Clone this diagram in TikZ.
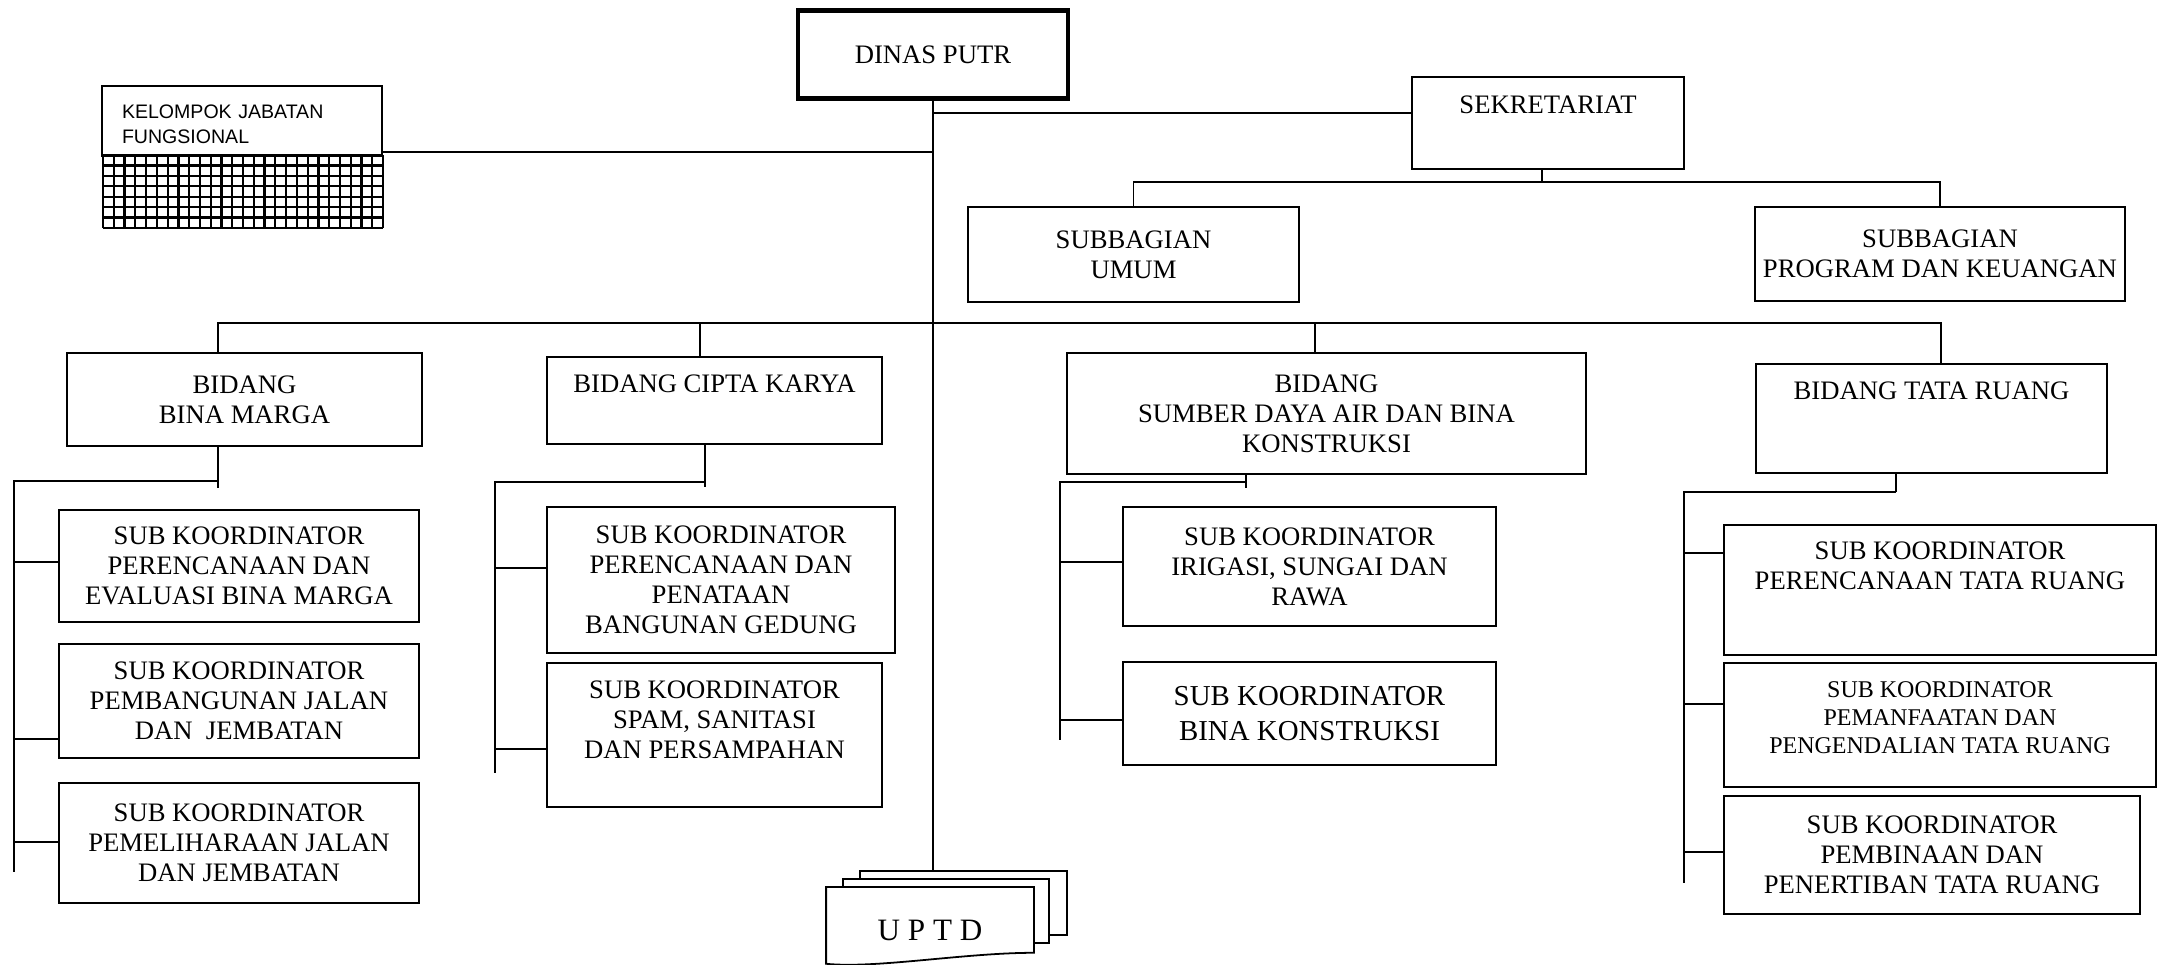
\documentclass[tikz,border=0pt]{standalone}
\usepackage{fontspec}
\setmainfont{Liberation Serif}
\newfontfamily\kjffont{Liberation Sans}
\usetikzlibrary{calc}

\def\px{0.45pt}
\newcommand\tnr{\fontsize{12}{13.5}\selectfont}

\begin{document}
\begin{tikzpicture}[x=0.45pt, y=-0.45pt, line width=0.8pt,
  box/.style 2 args={draw, align=center, inner sep=0pt, font=\tnr,
    minimum width=#1*\px, minimum height=#2*\px},
  topbox/.style n args={3}{box={#1}{0}, anchor=north,
    text height=#2*\px, text depth=#3*\px}]
  \useasboundingbox (0,0) rectangle (2164,964);

  % --- pimpinan ---
  \node[box={270}{88}, line width=2.2pt] (dinas) at (933,54.5) {DINAS PUTR};

  % --- kelompok jabatan fungsional ---
  \node[topbox={280}{33}{37}, font=\kjffont\fontsize{8.8}{11.2}\selectfont,
    align=left, text width=240*\px, inner xsep=20*\px] (kjf) at (242,85)
    {KELOMPOK JABATAN\\FUNGSIONAL};
  \foreach \i in {0,...,26}
    \draw[line width=1pt] ({103+\i*10.77},155) -- ({103+\i*10.77},228);
  \foreach \j in {0,...,7}
    \draw[line width=1pt] (103,{155+\j*10.43}) -- (383,{155+\j*10.43});

  % --- sekretariat ---
  \node[topbox={272}{37}{55}] (sek) at (1548,76) {SEKRETARIAT};
  \node[box={331}{95}] (sbu) at (1133.5,254.5) {SUBBAGIAN\\UMUM};
  \node[box={370}{94}] (sbp) at (1940,254) {SUBBAGIAN\\PROGRAM DAN KEUANGAN};

  % --- bidang ---
  \node[box={355}{93}] (bm) at (244.5,399.5) {BIDANG\\BINA MARGA};
  \node[topbox={335}{36}{51}] (ck) at (714.5,356) {BIDANG CIPTA KARYA};
  \node[box={519}{121}] (sda) at (1326.5,413.5)
    {BIDANG\\SUMBER DAYA AIR DAN BINA\\KONSTRUKSI};
  \node[topbox={351}{36}{73}] (tr) at (1931.5,363) {BIDANG TATA RUANG};

  % --- sub koordinator ---
  \node[box={360}{112}] (bm1) at (239,566)
    {SUB KOORDINATOR\\PERENCANAAN DAN\\EVALUASI BINA MARGA};
  \node[box={360}{114}] (bm2) at (239,701)
    {SUB KOORDINATOR\\PEMBANGUNAN JALAN\\DAN\ \ JEMBATAN};
  \node[box={360}{120}] (bm3) at (239,843)
    {SUB KOORDINATOR\\PEMELIHARAAN JALAN\\DAN JEMBATAN};
  \node[box={348}{146}] (ck1) at (721,580)
    {SUB KOORDINATOR\\PERENCANAAN DAN\\PENATAAN\\BANGUNAN GEDUNG};
  \node[topbox={335}{96}{48}] (ck2) at (714.5,662)
    {SUB KOORDINATOR\\SPAM, SANITASI\\DAN PERSAMPAHAN};
  \node[box={373}{119}] (sda1) at (1309.5,566.5)
    {SUB KOORDINATOR\\IRIGASI, SUNGAI DAN\\RAWA};
  \node[box={373}{103}, font=\fontsize{13}{15.5}\selectfont] (sda2) at (1309.5,713.5)
    {SUB KOORDINATOR\\BINA KONSTRUKSI};
  \node[topbox={432}{65}{65}] (tr1) at (1940,524)
    {SUB KOORDINATOR\\PERENCANAAN TATA RUANG};
  \node[topbox={432}{91}{33}, font=\fontsize{10.8}{12.8}\selectfont] (tr2) at (1940,662)
    {SUB KOORDINATOR\\PEMANFAATAN DAN\\PENGENDALIAN TATA RUANG};
  \node[box={416}{118}] (tr3) at (1932,855)
    {SUB KOORDINATOR\\PEMBINAAN DAN\\PENERTIBAN TATA RUANG};

  % --- UPTD ---
  \draw (860,879) -- (860,871) -- (1067,871) -- (1067,935) -- (1049,935);
  \draw (843,887) -- (843,879) -- (1049,879) -- (1049,943) -- (1033,943);
  \node[anchor=north, inner sep=0pt, minimum width=206*\px,
    text height=53*\px, text depth=11*\px, font=\fontsize{14}{16}\selectfont]
    (uptd) at (930,887) {U\ P\ T\ D};
  \draw (uptd.north west) -- (uptd.north east) -- (uptd.south east)
    .. controls +(-70,0) and +(50,5) .. ($(uptd.south west)+(0,11)$) -- cycle;

  % --- garis komando ---
  \coordinate (uptdtop) at (933,871);
  \draw (dinas.south) -- (uptdtop);
  \coordinate (jkjf) at (933,152);
  \draw (jkjf -| kjf.east) -- (jkjf);
  \coordinate (jsek) at (933,113);
  \draw (jsek) -- (jsek -| sek.west);
  \coordinate (jsb) at (1542,182);
  \draw (jsb |- sek.south) -- (jsb);
  \draw (sbu.north) |- (jsb) -| (sbp.north);

  % --- garis bidang ---
  \coordinate (dbm) at (218,323);
  \coordinate (dck) at (700,323);
  \coordinate (dsda) at (1315,323);
  \coordinate (dtr) at (1941,323);
  \draw (dbm |- bm.north) -- (dbm) -- (dtr) -- (dtr |- tr.north);
  \draw (dck) -- (dck |- ck.north);
  \draw (dsda) -- (dsda |- sda.north);

  % --- garis sub koordinator ---
  \coordinate (sbm) at (218,481);
  \coordinate (ebm) at (14,872);
  \draw (sbm |- bm.south) -- ++(0,41);
  \draw (sbm) -| (ebm);
  \foreach \n/\y in {bm1/562, bm2/739, bm3/842}
    \draw (14,\y) -- (\n.west |- 0,\y);

  \coordinate (sck) at (705,482);
  \coordinate (eck) at (495,773);
  \draw (sck |- ck.south) -- ++(0,42);
  \draw (sck) -| (eck);
  \foreach \n/\y in {ck1/568, ck2/749}
    \draw (495,\y) -- (\n.west |- 0,\y);

  \coordinate (ssda) at (1246,482);
  \coordinate (esda) at (1060,740);
  \draw (ssda |- sda.south) -- ++(0,13);
  \draw (ssda) -| (esda);
  \foreach \n/\y in {sda1/562, sda2/720}
    \draw (1060,\y) -- (\n.west |- 0,\y);

  \coordinate (str) at (1896,492);
  \coordinate (etr) at (1684,883);
  \draw (str |- tr.south) -- (str);
  \draw (str) -| (etr);
  \foreach \n/\y in {tr1/553, tr2/704, tr3/852}
    \draw (1684,\y) -- (\n.west |- 0,\y);
\end{tikzpicture}
\end{document}
